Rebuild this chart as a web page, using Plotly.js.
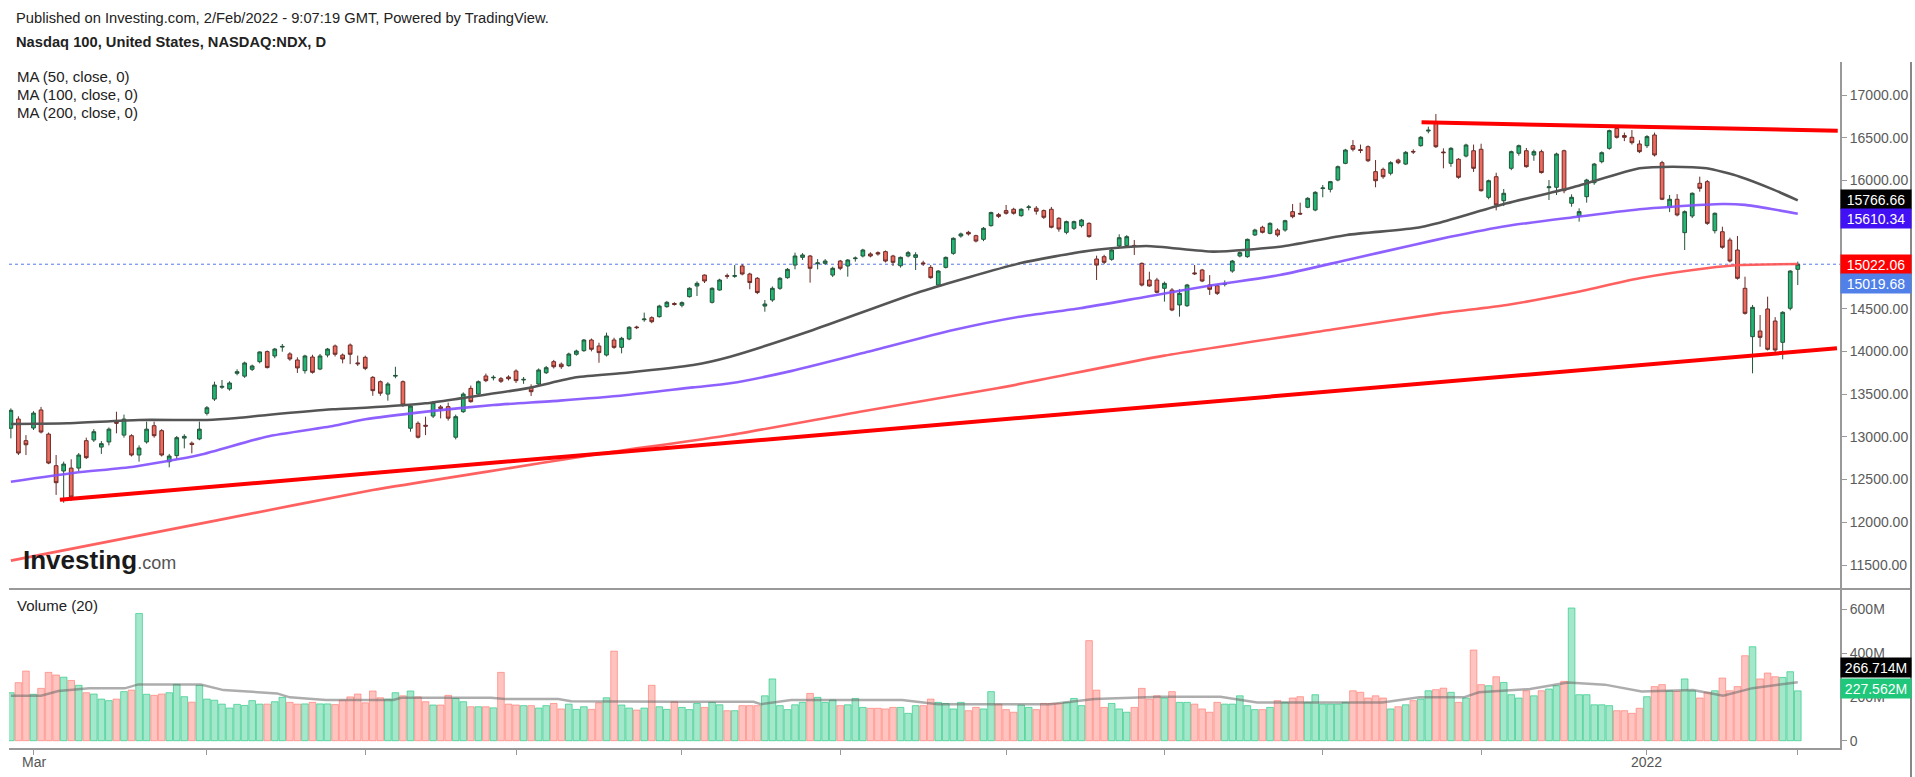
<!DOCTYPE html>
<html><head><meta charset="utf-8">
<script src="https://cdn.plot.ly/plotly-3.0.1.min.js"></script>
<style>html,body{margin:0;padding:0;background:#fff;}#chart{width:1915px;height:777px;}</style>
</head><body><div id="chart"></div>
<script>
// ---------- DATA ----------
const firstBarIndex = -3; // Feb 24 2021; bar 0 = Mar 1 2021
const monthTickIdx = [0,23,44,64,86,107,129,150,171,192,214,234];
const monthTickText = ["Mar","","","","","","","","","","2022",""];
const priceTicks = [11500,12000,12500,13000,13500,14000,14500,15000,15500,16000,16500,17000];
const volTicks = [0,200,400,600];
const volTickText = ["0","200M","400M","600M"];

// [open, high, low, close]
const ohlcFeb21 = [[13100,13333,12982,13310],[13208,13240,12787,12810],[12955,13020,12787,12907]];
const ohlcMar21 = [[13103,13300,13080,13278],[13314,13350,13040,13056],[13032,13050,12680,12693],[12662,12787,12320,12463],[12600,12709,12229,12681],[12634,12737,12253,12295],[12634,12810,12600,12787],[12955,12990,12740,12756],[12963,13090,12940,13060],[12880,12950,12800,12920],[12940,13110,12900,13090],[13170,13294,13041,13160],[13020,13260,12990,13208],[13013,13030,12770,12787],[12787,12900,12709,12869],[12940,13178,12920,13090],[13130,13178,12990,13013],[13072,13090,12770,12787],[12709,12800,12643,12775],[12780,13010,12740,12990],[12985,13030,12865,13005],[12925,12945,12807,12910],[12975,13178,12960,13090]];
const ohlcApr21 = [[13275,13360,13250,13340],[13442,13645,13420,13606],[13580,13665,13560,13590],[13560,13650,13540,13630],[13743,13790,13720,13762],[13710,13880,13690,13864],[13790,13845,13770,13829],[13879,14000,13860,13993],[13997,14010,13800,13810],[13946,14040,13920,14027],[14050,14086,13996,14058],[13970,13990,13890,13911],[13899,13930,13747,13806],[13774,13960,13740,13946],[13934,13960,13740,13755],[13793,13970,13780,13946],[13957,14040,13930,14027],[14063,14080,13940,13966],[13957,13975,13860,13911],[14074,14092,13850,13966],[13865,13950,13829,13855]];
const ohlcMay21 = [[13930,13950,13780,13801],[13696,13710,13480,13540],[13645,13660,13480,13510],[13500,13640,13423,13618],[13710,13820,13685,13718],[13645,13660,13350,13372],[13100,13380,13060,13360],[13158,13180,12980,12995],[13135,13236,13020,13125],[13243,13420,13220,13400],[13350,13372,13216,13330],[13353,13400,13190,13218],[12995,13260,12970,13236],[13294,13520,13280,13500],[13567,13600,13400,13411],[13500,13660,13490,13645],[13712,13740,13640,13657],[13690,13720,13660,13696],[13680,13700,13630,13650],[13700,13720,13660,13680]];
const ohlcJun21 = [[13770,13790,13630,13657],[13665,13700,13620,13672],[13580,13614,13478,13528],[13618,13800,13600,13782],[13750,13830,13735,13809],[13879,13900,13800,13820],[13850,13870,13795,13820],[13833,13985,13820,13969],[13966,14020,13950,14004],[14008,14145,13995,14133],[14133,14150,14000,14024],[14063,14101,13867,13985],[13957,14219,13940,14180],[14133,14160,14030,14047],[14047,14170,13977,14153],[14145,14295,14130,14282],[14285,14300,14260,14278],[14370,14453,14347,14378],[14394,14410,14330,14347],[14406,14545,14395,14530],[14523,14590,14510,14574],[14560,14575,14535,14550]];
const ohlcJul21 = [[14540,14585,14515,14570],[14640,14750,14630,14738],[14765,14819,14648,14796],[14893,14900,14800,14823],[14574,14750,14560,14738],[14718,14850,14710,14835],[14885,14910,14850,14880],[14878,15010,14860,14886],[14999,15020,14890,14905],[14905,14920,14727,14805],[14855,14870,14670,14688],[14530,14601,14464,14554],[14601,14760,14580,14738],[14738,14870,14720,14855],[14862,14975,14850,14960],[15010,15155,14960,15116],[15100,15150,15070,15128],[15116,15128,14804,14972],[15025,15080,14960,15035],[15030,15080,15010,15057],[14893,14990,14870,14972]];
const ohlcAug21 = [[15057,15070,14950,14972],[14999,15080,14874,15069],[15085,15110,15050,15092],[15116,15200,15100,15186],[15140,15160,15100,15116],[15155,15170,15120,15140],[15167,15180,15040,15057],[15116,15130,15000,15042],[15002,15110,14980,15100],[15116,15175,15100,15155],[15100,15160,14952,15130],[15035,15060,15000,15025],[14983,15010,14850,14862],[14776,14950,14757,14940],[14983,15110,14970,15100],[15147,15335,15130,15323],[15350,15390,15330,15374],[15393,15410,15355,15374],[15354,15365,15275,15291],[15311,15455,15290,15440],[15471,15635,15460,15624],[15600,15620,15560,15580]];
const ohlcSep21 = [[15647,15713,15600,15616],[15663,15680,15600,15616],[15588,15675,15575,15663],[15683,15713,15650,15690],[15675,15700,15600,15640],[15647,15660,15550,15569],[15663,15690,15440,15452],[15557,15570,15400,15432],[15393,15530,15370,15518],[15440,15530,15420,15518],[15471,15550,15450,15537],[15498,15510,15330,15343],[15081,15120,14835,15010],[15108,15130,15020,15042],[15077,15200,15060,15186],[15233,15370,15220,15330],[15237,15360,15220,15342],[15240,15303,15128,15230],[15030,15040,14760,14776],[14835,14932,14757,14765],[14835,14860,14680,14691]];
const ohlcOct21 = [[14738,14816,14582,14796],[14718,14740,14470,14484],[14543,14727,14406,14679],[14534,14790,14520,14777],[14918,15010,14893,14908],[14952,14965,14810,14823],[14777,14893,14660,14726],[14768,14780,14660,14679],[14785,14830,14760,14792],[14940,15070,14920,15057],[15116,15170,15100,15155],[15108,15320,15095,15311],[15362,15435,15350,15420],[15452,15470,15380,15393],[15381,15510,15370,15498],[15420,15440,15340,15362],[15420,15540,15400,15529],[15635,15724,15557,15576],[15615,15740,15596,15608],[15686,15805,15675,15791],[15654,15875,15640,15861]];
const ohlcNov21 = [[15905,15947,15803,15912],[15896,15995,15860,15986],[16005,16175,15990,16161],[16200,16370,16190,16356],[16407,16473,16340,16365],[16360,16420,16320,16352],[16395,16410,16215,16231],[16103,16239,15920,15997],[16130,16150,16020,16044],[16084,16225,16060,16208],[16239,16255,16190,16208],[16192,16345,16180,16329],[16340,16365,16310,16334],[16407,16520,16395,16505],[16578,16629,16552,16588],[16669,16777,16380,16395],[16333,16376,16142,16325],[16200,16390,16160,16376],[16248,16260,16020,16037],[16286,16430,16270,16415],[16348,16420,16100,16142]];
const ohlcDec21 = [[16365,16430,15870,15880],[15803,16010,15780,15997],[16044,16090,15650,15713],[15763,15900,15700,15850],[16142,16350,16120,16337],[16318,16420,16290,16407],[16348,16380,16150,16161],[16298,16360,16230,16337],[16337,16360,16080,16092],[15915,16005,15771,15925],[15920,16325,15830,16310],[16348,16360,15850,15880],[15733,15838,15693,15803],[15584,15674,15518,15635],[15810,16020,15740,16005],[15974,16205,15950,16192],[16220,16340,16200,16325],[16376,16595,16360,16583],[16610,16640,16490,16505],[16525,16560,16460,16505],[16505,16590,16420,16442],[16427,16470,16320,16337]];
const ohlcJan22 = [[16407,16530,16380,16513],[16532,16560,16280,16298],[16208,16230,15770,15780],[15686,15830,15630,15780],[15780,15840,15580,15596],[15389,15650,15186,15635],[15584,15860,15560,15850],[15967,16044,15869,15908],[15986,16005,15480,15498],[15412,15625,15380,15616],[15400,15459,15200,15218],[15303,15330,15040,15057],[15186,15350,14840,14855],[14738,14874,14430,14445],[14172,14543,13743,14515],[14238,14425,14054,14164],[14496,14640,14010,14024],[14355,14400,13990,14016],[14106,14470,13907,14457],[14504,14950,14480,14940]];
const ohlcFeb22 = [[14960,15050,14776,15019.68]];

// volume in millions
const volFeb21 = [219,265,318];
const volMar21 = [212,239,312,300,290,275,253,219,213,190,183,190,224,231,581,212,207,213,219,257,201,176,253];
const volApr21 = [190,185,167,149,166,161,183,167,167,178,198,175,167,168,175,168,168,165,185,200,213];
const volMay21 = [173,227,196,190,219,205,227,200,178,163,163,207,193,178,155,155,155,150,312,167];
const volJun21 = [163,160,160,149,160,170,145,167,143,155,143,173,196,409,163,149,140,149,253,155,143,178];
const volJul21 = [152,142,170,152,175,164,137,137,160,160,160,205,282,160,142,164,175,216,198,175,186];
const volAug21 = [160,164,193,152,148,148,145,152,152,125,160,160,190,175,170,145,175,137,152,145,224,167];
const volSep21 = [142,130,163,152,142,170,170,170,175,193,160,457,231,152,170,145,130,152,239,190,205];
const volOct21 = [195,224,175,175,167,145,130,175,167,167,205,160,142,142,152,183,175,195,201,175,210];
const volNov21 = [167,167,167,175,228,221,195,205,195,145,155,164,183,190,228,233,240,221,175,195,414];
const volDec21 = [256,251,292,266,210,195,228,205,228,236,251,271,606,210,210,164,164,160,137,137,125,148];
const volJan22 = [201,247,256,228,225,282,228,195,221,228,286,228,247,388,429,282,309,292,289,315];
const volFeb22 = [227.562];

// moving averages, read at sample bars
const ma50Idx = [-3,4.5,14,23,27,31,39.7,44,52,56.6,65.4,72,78.7,87.5,92.4,103.4,117.6,130.8,140,147.6,156.5,165.3,174.2,183,186.5,195.4,204.2,213,217.4,221.9,226.3,230.7,234];
const ma50Val = [13150,13158,13197,13197,13220,13255,13322,13340,13392,13450,13567,13696,13750,13840,13938,14250,14698,15030,15178,15233,15167,15225,15362,15440,15506,15733,15920,16142,16161,16142,16044,15896,15766.66];
const ma100Idx = [-3,5.5,13.3,22,30.9,39.7,44,52.1,61,69.8,78.7,87.5,92.4,100,110,122,130.8,138.8,147.6,156.5,165.3,174.2,183,187.9,195.4,204.2,213,217.4,224,227,230.7,234];
const ma100Val = [12475,12580,12650,12787,13002,13126,13205,13295,13372,13423,13489,13579,13626,13760,13980,14250,14406,14504,14640,14776,14893,15069,15245,15340,15467,15569,15663,15693,15724,15714,15663,15610.34];
const ma200Idx = [-3,25,45,60,75,92.4,110,128,150,172.5,186.5,195.4,204.2,213,221.9,226.3,234];
const ma200Val = [11551,12034,12377,12590,12800,13021,13300,13571,13950,14258,14445,14543,14686,14855,14972,15010,15022.06];
const volMaIdx = [-3,1,3.3,7.4,12.1,13.9,22.2,25.2,32.3,34,37,38.8,47.7,48.8,60.7,62.5,69.6,71.3,85.7,95.5,96.5,100.5,115.2,120,134.8,140.7,149.5,157.4,162.3,178.9,183.8,189.7,191.7,198.5,203.5,208.4,213.3,220.1,224.1,228,234];
const volMaVal = [205,205,227,239,239,257,257,231,216,198,190,186,186,196,196,190,190,180,178,178,167,186,186,167,167,190,201,201,175,175,198,198,221,236,266,256,225,231,205,240,266.714];

// hand-drawn trend lines (bar index, price)
const supportIdx = [3.5,239.2];
const supportVal = [12264,14036];
const resistIdx = [184.1,239.3];
const resistVal = [16680,16582];

const lastClose = 15019.68;

// ---------- BUILD ----------
const allOhlc = [].concat(ohlcFeb21,ohlcMar21,ohlcApr21,ohlcMay21,ohlcJun21,ohlcJul21,ohlcAug21,ohlcSep21,ohlcOct21,ohlcNov21,ohlcDec21,ohlcJan22,ohlcFeb22);
const allVol = [].concat(volFeb21,volMar21,volApr21,volMay21,volJun21,volJul21,volAug21,volSep21,volOct21,volNov21,volDec21,volJan22,volFeb22);
const xs = allOhlc.map((r,i)=>firstBarIndex+i);
const opens = allOhlc.map(r=>r[0]), highs = allOhlc.map(r=>r[1]), lows = allOhlc.map(r=>r[2]), closes = allOhlc.map(r=>r[3]);
const up = allOhlc.map(r=>r[3]>=r[0]);

const W=1915,H=777,L=9,R=75,T=62,B=29;
const plotW=W-L-R, plotH=H-T-B;
const volFrac = 159/plotH;
const pxX = x => (x-L)/plotW;
const pxY = y => (H-B-y)/plotH;
const FONT = 'Arial, "Liberation Sans", sans-serif';

const traces = [
  {type:'candlestick', x:xs, open:opens, high:highs, low:lows, close:closes, xaxis:'x', yaxis:'y',
   increasing:{line:{color:'#24543a',width:1}, fillcolor:'#22b573'},
   decreasing:{line:{color:'#6a2b27',width:1}, fillcolor:'#ee6a5e'},
   whiskerwidth:0, hoverinfo:'skip', showlegend:false},
  {type:'scatter', mode:'lines', x:ma200Idx, y:ma200Val, line:{color:'rgba(255,80,80,0.9)',width:2.6,shape:'spline',smoothing:0.6}, yaxis:'y', hoverinfo:'skip'},
  {type:'scatter', mode:'lines', x:ma100Idx, y:ma100Val, line:{color:'rgba(130,80,255,0.9)',width:2.6,shape:'spline',smoothing:0.6}, yaxis:'y', hoverinfo:'skip'},
  {type:'scatter', mode:'lines', x:ma50Idx, y:ma50Val, line:{color:'#555555',width:2.6,shape:'spline',smoothing:0.6}, yaxis:'y', hoverinfo:'skip'},
  {type:'scatter', mode:'lines', x:supportIdx, y:supportVal, line:{color:'#ff0000',width:4}, yaxis:'y', hoverinfo:'skip'},
  {type:'scatter', mode:'lines', x:resistIdx, y:resistVal, line:{color:'#ff0000',width:4}, yaxis:'y', hoverinfo:'skip'},
  {type:'bar', x:xs, y:allVol, yaxis:'y2',
   marker:{color:up.map(u=>u?'rgba(38,200,130,0.42)':'rgba(255,115,105,0.42)'),
           line:{color:up.map(u=>u?'rgba(38,200,130,0.65)':'rgba(255,115,105,0.6)'),width:1}},
   hoverinfo:'skip'},
  {type:'scatter', mode:'lines', x:volMaIdx, y:volMaVal, yaxis:'y2', line:{color:'rgba(105,105,105,0.55)',width:2.5}, hoverinfo:'skip'}
];

function priceLabel(v, txt, bg, shift){
  return {xref:'paper', x:1, xanchor:'left', xshift:0, yref:'y', y:v, yanchor:'middle', yshift:shift,
    text:txt, showarrow:false, bgcolor:bg, font:{color:'#fff',size:14,family:FONT},
    width:66, height:15, borderpad:2, align:'center'};
}
function volLabel(v, txt, bg, shift){
  const a = priceLabel(v, txt, bg, shift); a.yref='y2'; return a;
}
function textAt(x,y,txt,size,extra){
  return Object.assign({xref:'paper', yref:'paper', x:pxX(x), y:pxY(y), xanchor:'left', yanchor:'middle',
    text:txt, showarrow:false, font:{size:size,color:'#222',family:FONT}}, extra||{});
}

const annotations = [
  textAt(14,18,'Published on Investing.com, 2/Feb/2022 - 9:07:19 GMT, Powered by TradingView.',14.7),
  textAt(14,42,'<b>Nasdaq 100, United States, NASDAQ:NDX, D</b>',14.7),
  textAt(15,76,'MA (50, close, 0)',15),
  textAt(15,94,'MA (100, close, 0)',15),
  textAt(15,112,'MA (200, close, 0)',15),
  textAt(15,605,'Volume (20)',15),
  textAt(21,560,'<b>Investing</b><span style="font-size:18px;color:#555">.com</span>',26,{font:{size:26,color:'#1a1a1a',family:FONT}}),
  priceLabel(ma50Val[ma50Val.length-1], ma50Val[ma50Val.length-1].toFixed(2), '#000000', 1),
  priceLabel(ma100Val[ma100Val.length-1], ma100Val[ma100Val.length-1].toFixed(2), '#4210f5', -5),
  priceLabel(ma200Val[ma200Val.length-1], ma200Val[ma200Val.length-1].toFixed(2), '#ff0000', 0),
  priceLabel(lastClose, lastClose.toFixed(2), '#5080e8', -19),
  volLabel(volMaVal[volMaVal.length-1], volMaVal[volMaVal.length-1].toFixed(3)+'M', '#000000', 15),
  volLabel(allVol[allVol.length-1], allVol[allVol.length-1].toFixed(3)+'M', '#1fc77a', 2)
];
// month labels under the time axis
monthTickIdx.forEach((idx,k)=>{
  if (monthTickText[k]) annotations.push({xref:'x', x:idx, yref:'paper', y:pxY(762), xanchor:'center', yanchor:'middle',
    text:monthTickText[k], showarrow:false, font:{size:14,color:'#555',family:FONT}});
});

const shapes = [
  {type:'line', xref:'paper', yref:'y', x0:0, x1:1, y0:lastClose, y1:lastClose, line:{color:'#5577ee',width:1,dash:'dot'}, layer:'below'},
  {type:'line', xref:'paper', yref:'paper', x0:0, x1:pxX(1911), y0:volFrac, y1:volFrac, line:{color:'#999',width:2}},
  {type:'line', xref:'paper', yref:'paper', x0:pxX(1911), x1:pxX(1911), y0:1, y1:pxY(777), line:{color:'#888',width:2}}
];

const axisCommon = {showgrid:false, zeroline:false, showline:true, linecolor:'#999', linewidth:2,
  ticks:'outside', ticklen:5, tickcolor:'#999', tickwidth:1, fixedrange:true};

const layout = {
  width:W, height:H, margin:{l:L,r:R,t:T,b:B,pad:0}, paper_bgcolor:'#fff', plot_bgcolor:'#fff',
  showlegend:false, font:{family:FONT,color:'#222',size:13}, hovermode:false,
  boxgap:0.3, bargap:0.12,
  xaxis:Object.assign({}, axisCommon, {range:[-3.25,239.6], anchor:'y2', tickmode:'array', tickvals:monthTickIdx, ticktext:monthTickText,
    showticklabels:false, rangeslider:{visible:false}}),
  yaxis:Object.assign({}, axisCommon, {domain:[volFrac,1], anchor:'x', side:'right', range:[11219.1,17386.2], tickmode:'array',
    tickvals:priceTicks, ticktext:priceTicks.map(v=>v.toFixed(2)), tickfont:{size:14,color:'#5a5a5a'}}),
  yaxis2:Object.assign({}, axisCommon, {domain:[0,volFrac], anchor:'x', side:'right', range:[-33.3,692.7], tickmode:'array',
    tickvals:volTicks, ticktext:volTickText, tickfont:{size:14,color:'#5a5a5a'}}),
  annotations:annotations, shapes:shapes
};

Plotly.newPlot('chart', traces, layout, {staticPlot:true, displayModeBar:false});
</script></body></html>
